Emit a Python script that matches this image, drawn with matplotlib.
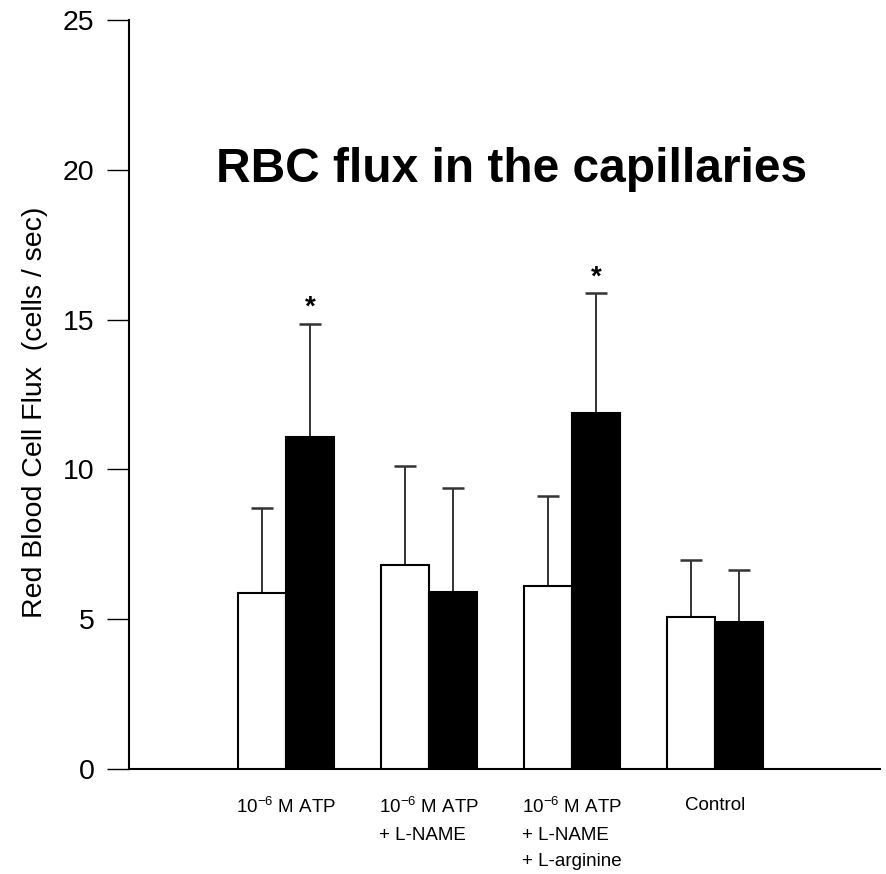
import matplotlib
matplotlib.use("Agg")
import matplotlib.pyplot as plt
import numpy as np

plt.rcParams['font.family'] = ['Liberation Sans', 'DejaVu Sans']
plt.rcParams['mathtext.fontset'] = 'custom'
plt.rcParams['mathtext.rm'] = 'Liberation Sans'
plt.rcParams['mathtext.default'] = 'regular'

# Data
categories = ["10$^{-6}$ M ATP", "10$^{-6}$ M ATP\n+ L-NAME",
              "10$^{-6}$ M ATP\n+ L-NAME\n+ L-arginine", "Control"]
white_vals = [5.87, 6.80, 6.12, 5.08]
white_err = [2.84, 3.32, 3.00, 1.90]
black_vals = [11.08, 5.90, 11.88, 4.91]
black_err = [3.78, 3.47, 4.00, 1.73]
significant = [True, False, True, False]
yticks = [0, 5, 10, 15, 20, 25]

W, H = 886, 874
fig = plt.figure(figsize=(W / 100, H / 100), dpi=100)
ax = fig.add_axes([129 / W, (H - 769) / H, 751 / W, 749 / H])

x = np.arange(1, len(categories) + 1)
bw = 0.336

ax.bar(x - bw / 2, white_vals, bw, color='white', edgecolor='black', linewidth=1.5, zorder=3)
ax.bar(x + bw / 2, black_vals, bw, color='black', edgecolor='black', linewidth=1.5, zorder=3)

ax.errorbar(x - bw / 2, white_vals, yerr=[np.zeros(len(x)), white_err], fmt='none',
            ecolor='#333333', elinewidth=1.4, capsize=8, capthick=1.8, zorder=2)
ax.errorbar(x + bw / 2, black_vals, yerr=[np.zeros(len(x)), black_err], fmt='none',
            ecolor='#333333', elinewidth=1.4, capsize=8, capthick=1.8, zorder=2)

for xi, v, e, s in zip(x, black_vals, black_err, significant):
    if s:
        ax.text(xi + bw / 2, v + e + 0.3, '*', ha='center', va='baseline',
                fontsize=20, fontweight='bold')

ax.set_xlim(-0.098, 5.154)
ax.set_ylim(0, 25)
ax.set_yticks(yticks)
ax.tick_params(axis='y', direction='out', length=16, width=1.0, pad=9, labelsize=20.5)
ax.set_xticks(x)
ax.set_xticklabels(categories, fontsize=13.5, linespacing=1.75)
for t in ax.get_xticklabels():
    t.set_multialignment('left')
    t.set_va('top')
ax.tick_params(axis='x', length=0, pad=20)

for sp in ['top', 'right']:
    ax.spines[sp].set_visible(False)
ax.spines['left'].set_linewidth(1.5)
ax.spines['bottom'].set_linewidth(1.5)

fig.text(512 / W, 1 - 170 / H, 'RBC flux in the capillaries', ha='center', va='center',
         fontsize=34.5, fontweight='bold')
fig.text(35 / W, 1 - 412 / H, 'Red Blood Cell Flux  (cells / sec)', rotation=90,
         ha='center', va='center', fontsize=20.5)

fig.savefig('out.png', dpi=100)
